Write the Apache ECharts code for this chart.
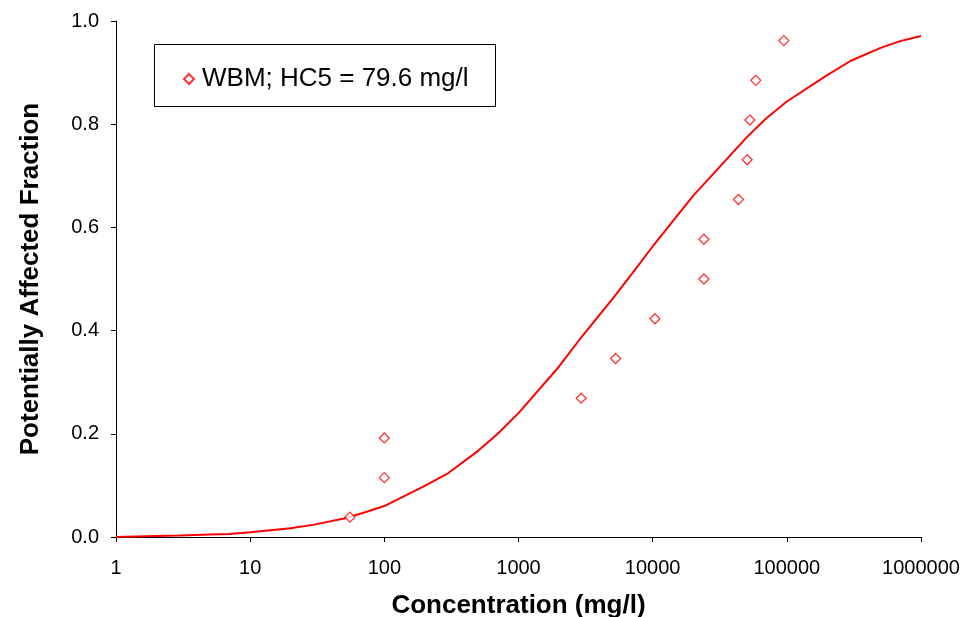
<!DOCTYPE html>
<html>
<head>
<meta charset="utf-8">
<script src="https://cdn.jsdelivr.net/npm/echarts@6/dist/echarts.min.js"></script>
<style>
html,body{margin:0;padding:0;background:#fff;}
#chart{width:975px;height:617px;}
</style>
</head>
<body>
<div id="chart"></div>
<script>
// Observed species sensitivity data (concentration mg/l, fraction)
const obsConc = [55.4, 100, 100, 2930, 5290, 10400, 24100, 24100, 43600, 50600, 53000, 58700, 95000];
const obsFrac = [0.0385, 0.115, 0.192, 0.269, 0.346, 0.423, 0.500, 0.577, 0.654, 0.731, 0.808, 0.885, 0.962];
// Fitted curve
const curveConc = [1,2,3,5,7,10,20,30,50,70,100,200,300,500,700,1000,2000,3000,5000,7000,10000,20000,30000,50000,70000,100000,200000,300000,500000,700000,1000000];
const curveFrac = [0.000,0.002,0.003,0.005,0.006,0.009,0.017,0.024,0.036,0.047,0.060,0.099,0.124,0.167,0.200,0.240,0.330,0.390,0.461,0.510,0.563,0.661,0.711,0.774,0.811,0.844,0.895,0.923,0.948,0.961,0.971];
const yTicks = ['0.0','0.2','0.4','0.6','0.8','1.0'];
const legendLabel = 'WBM; HC5 = 79.6 mg/l';
const xTitle = 'Concentration (mg/l)';
const yTitle = 'Potentially Affected Fraction';

const font = 'Liberation Sans, Arial, sans-serif';
const chart = echarts.init(document.getElementById('chart'));
chart.setOption({
  animation: false,
  backgroundColor: '#fff',
  grid: {left: 116, right: 54, top: 21, bottom: 80, containLabel: false, outerBoundsMode: 'none'},
  graphic: [{
    type: 'rect', left: 154, top: 44, z: 50,
    shape: {width: 341, height: 62},
    style: {fill: '#fff', stroke: '#000', lineWidth: 1}
  }],
  legend: {
    left: 178, top: 61, z: 60,
    data: [{name: legendLabel, icon: 'diamond'}],
    itemWidth: 10, itemHeight: 10,
    textStyle: {fontFamily: font, fontSize: 26, color: '#000', padding: [0,0,0,3]}
  },
  xAxis: {
    type: 'log', logBase: 10, min: 1, max: 1000000,
    name: xTitle, nameLocation: 'middle', nameGap: 56,
    nameTextStyle: {fontFamily: font, fontSize: 26, fontWeight: 'bold', color: '#000'},
    axisLine: {lineStyle: {color: '#000', width: 1}},
    axisTick: {show: true, length: 5, lineStyle: {color: '#000'}},
    minorTick: {show: false},
    splitLine: {show: false},
    axisLabel: {fontFamily: font, fontSize: 20, color: '#000', margin: 21,
      formatter: v => String(Math.round(v))}
  },
  yAxis: {
    type: 'value', min: 0, max: 1, interval: 0.2,
    name: yTitle, nameLocation: 'middle', nameGap: 72, nameRotate: 90,
    nameTextStyle: {fontFamily: font, fontSize: 26, fontWeight: 'bold', color: '#000'},
    axisLine: {show: true, lineStyle: {color: '#000', width: 1}},
    axisTick: {show: true, length: 5, lineStyle: {color: '#000'}},
    splitLine: {show: false},
    axisLabel: {fontFamily: font, fontSize: 20, color: '#000', margin: 17,
      formatter: (v) => yTicks[Math.round(v / 0.2)]}
  },
  series: [
    {
      name: 'fit', type: 'line', showSymbol: false, silent: true, z: 2,
      lineStyle: {color: '#ff0000', width: 2},
      data: curveConc.map((c, i) => [c, curveFrac[i]])
    },
    {
      name: legendLabel, type: 'scatter', symbol: 'diamond', symbolSize: [10, 10], z: 3,
      itemStyle: {color: '#fff', borderColor: '#ff0000', borderWidth: 1.3},
      data: obsConc.map((c, i) => [c, obsFrac[i]])
    }
  ]
});
</script>
</body>
</html>
